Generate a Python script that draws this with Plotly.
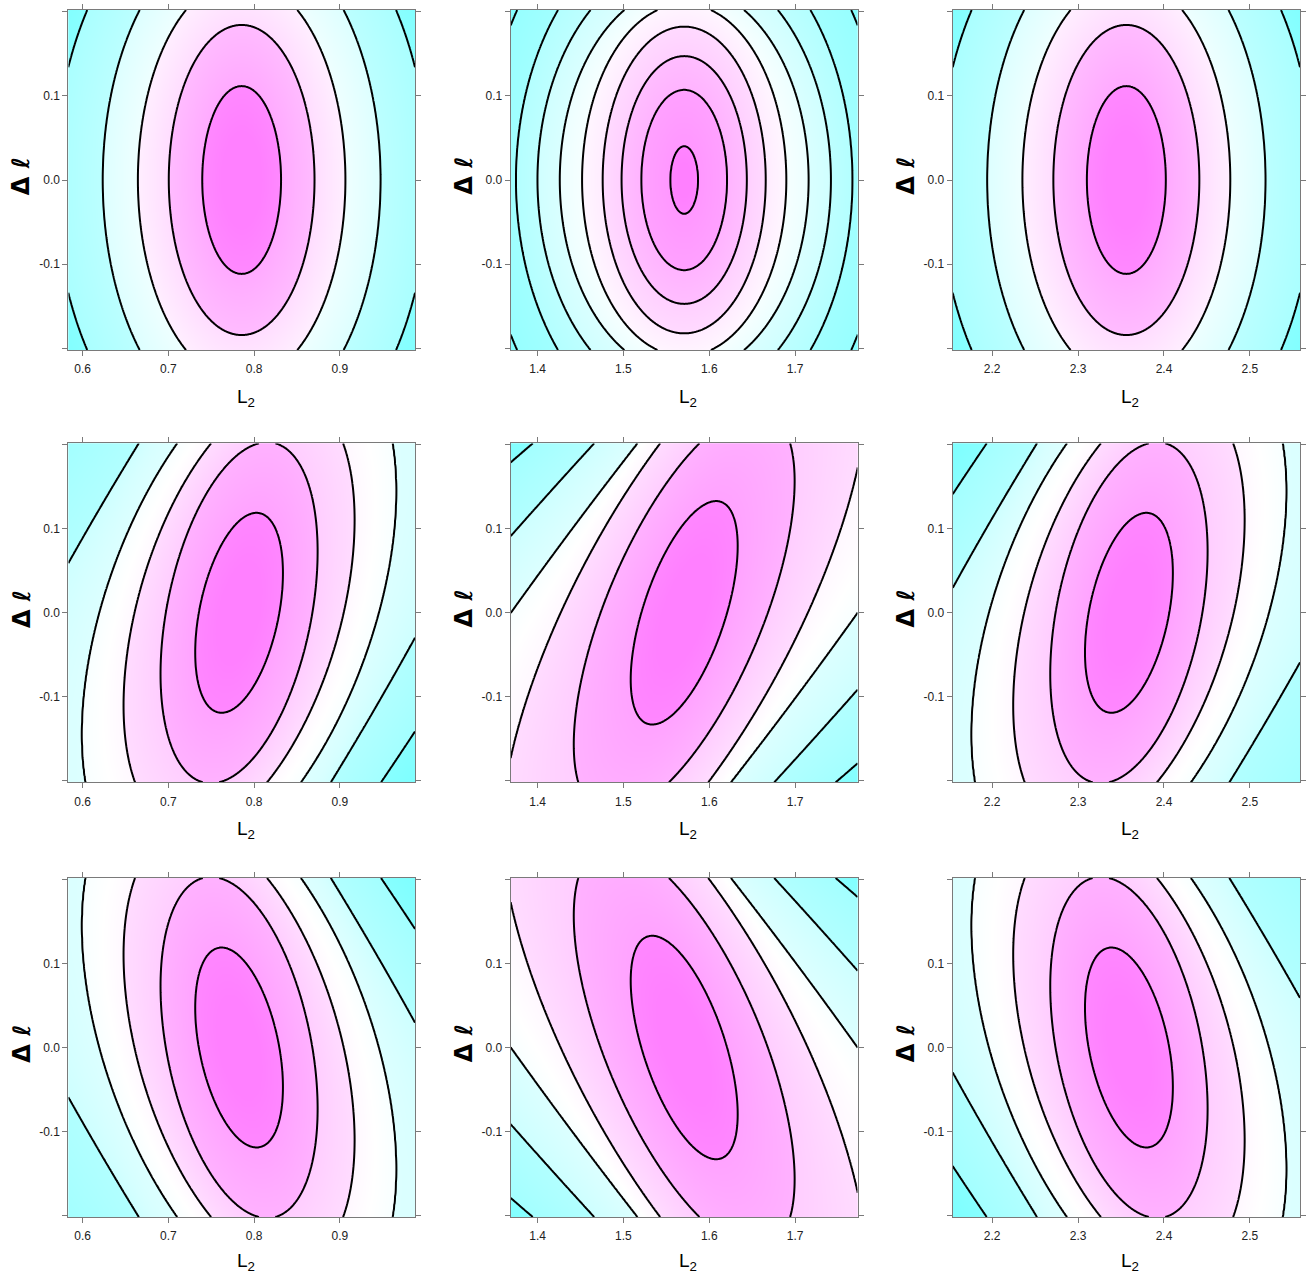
import numpy as np
import plotly.graph_objects as go

# ---- axes -------------------------------------------------------------
col_centres = [np.pi / 4, np.pi / 2, 3 * np.pi / 4]   # L2 centre of each column
x_half = 0.2022
y_half = 0.2017

x_tickvals = [[0.6, 0.7, 0.8, 0.9], [1.4, 1.5, 1.6, 1.7], [2.2, 2.3, 2.4, 2.5]]
x_ticktext = [["0.6", "0.7", "0.8", "0.9"], ["1.4", "1.5", "1.6", "1.7"], ["2.2", "2.3", "2.4", "2.5"]]
y_tickvals = [-0.1, 0.0, 0.1]
y_ticktext = ["-0.1", "0.0", "0.1"]
y_minor_ticks = [-0.2, 0.2]

# ---- contour geometry -------------------------------------------------
# For every contour (innermost first): half-width along L2 at the centre line,
# half-height along the tilt axis, shear (L2 shift per unit Δℓ) and L2 offset.
A_width = [0.046, 0.085, 0.121, 0.162, 0.218]
A_height = [0.1115, 0.184, 0.239, 0.297, 0.358]
A_shear = [0.0, 0.0, 0.0, 0.0, 0.0]
A_offset = [0.0, 0.0, 0.0, 0.0, 0.0]

B_width = [0.016, 0.050, 0.073, 0.095, 0.119, 0.145, 0.171, 0.196, 0.235]
B_height = [0.040, 0.107, 0.147, 0.182, 0.209, 0.230, 0.262, 0.305, 0.360]
B_shear = [0.0] * 9
B_offset = [0.0] * 9

C_width = [0.047, 0.0855, 0.122, 0.163, 0.226, 0.310]
C_height = [0.119, 0.203, 0.260, 0.316, 0.800, 1.000]
C_shear = [0.171, 0.162, 0.220, 0.265, 0.530, 0.600]
C_offset = [-0.003, -0.003, -0.003, -0.003, -0.008, -0.020]

D_width = [0.050, 0.0975, 0.144, 0.202, 0.280, 0.400]
D_height = [0.133, 0.240, 0.350, 0.800, 1.000, 1.200]
D_shear = [0.28, 0.35, 0.445, 0.70, 0.84, 1.08]
D_offset = [0.0] * 6

E_width = [0.047, 0.0855, 0.122, 0.163, 0.226, 0.310]
E_height = [0.119, 0.203, 0.260, 0.316, 0.800, 1.000]
E_shear = [0.171, 0.162, 0.220, 0.265, 0.530, 0.600]
E_offset = [0.003, 0.003, 0.003, 0.003, 0.008, 0.020]

surfaces = {
    "A": (A_width, A_height, A_shear, A_offset),
    "B": (B_width, B_height, B_shear, B_offset),
    "C": (C_width, C_height, C_shear, C_offset),
    "D": (D_width, D_height, D_shear, D_offset),
    "E": (E_width, E_height, E_shear, E_offset),
}

# panel grid: (surface, mirrored in Δℓ)
panel_layout = [
    [("A", False), ("B", False), ("A", False)],
    [("C", False), ("D", False), ("E", False)],
    [("C", True), ("D", True), ("E", True)],
]

# ---- page geometry (pixels) --------------------------------------------
W, H = 1307, 1275
cols_px = [(68.3, 415.0), (510.7, 857.7), (952.7, 1300.0)]
rows_px = [(10.0, 350.0), (443.3, 782.3), (878.0, 1217.0)]
xtitle_y_px = [397.5, 830.0, 1262.0]

# cm.colors: cyan -> white -> magenta
cm_scale = [[0.0, "#80FFFF"], [0.5, "#FFFFFF"], [1.0, "#FF80FF"]]
band_gradient = 0.35   # shading inside each band


def level_field(dx, dy, width, height, shear, offset):
    """Contour index of every grid point (0 at the peak, k on the k-th contour)."""
    n = len(width)
    knots = np.arange(n + 1, dtype=float)
    w = np.r_[1e-9, width]
    h = np.r_[1e-9, height]
    s = np.r_[shear[0], shear]
    c = np.r_[offset[0], offset]

    def at(arr, t):
        v = np.interp(t, knots, arr)
        slope = arr[-1] - arr[-2]
        return np.where(t > n, arr[-1] + (t - n) * slope, v)

    lo = np.zeros_like(dx)
    hi = np.full_like(dx, n + 4.0)
    for _ in range(40):
        mid = 0.5 * (lo + hi)
        u = dx - at(c, mid) - at(s, mid) * dy
        g = (u / at(w, mid)) ** 2 + (dy / at(h, mid)) ** 2
        inside = g < 1.0
        hi = np.where(inside, mid, hi)
        lo = np.where(inside, lo, mid)
    return 0.5 * (lo + hi)


def band_value(t, n):
    """Colour value: one cm.colors step per band, lightly shaded inside it."""
    b = np.minimum(np.floor(t), n)
    f = np.clip(t - b, 0.0, 1.0)
    return np.clip(b + band_gradient * (f - 0.5), 0.0, n)


fig = go.Figure()
layout = dict(
    width=W, height=H, margin=dict(l=0, r=0, t=0, b=0),
    paper_bgcolor="white", plot_bgcolor="white", showlegend=False,
)
annotations = []

axis_col = "#7a7a7a"
tick_font = dict(family="Liberation Sans, Arial, sans-serif", size=12, color="#222222")

idx = 0
for r in range(3):
    for ci in range(3):
        idx += 1
        sname, flip = panel_layout[r][ci]
        width, height, shear, offset = surfaces[sname]
        cx = col_centres[ci]
        xs = np.linspace(cx - x_half, cx + x_half, 401)
        ys = np.linspace(-y_half, y_half, 401)
        DX, DY = np.meshgrid(xs - cx, ys)
        if flip:
            DY = -DY
        t = level_field(DX, DY, width, height, shear, offset)
        n = len(width)
        xa = "x" if idx == 1 else f"x{idx}"
        ya = "y" if idx == 1 else f"y{idx}"

        fig.add_trace(go.Heatmap(
            x=xs, y=ys, z=-band_value(t, n), zmin=-n, zmax=0.0,
            colorscale=cm_scale, showscale=False, zsmooth=False,
            xaxis=xa, yaxis=ya, hoverinfo="skip",
        ))
        fig.add_trace(go.Contour(
            x=xs, y=ys, z=-t, showscale=False, autocontour=False,
            contours=dict(coloring="none", start=-n, end=-1, size=1, showlabels=False),
            line=dict(color="black", width=2, smoothing=1),
            xaxis=xa, yaxis=ya, hoverinfo="skip",
        ))

        l, rr = cols_px[ci]
        top, bot = rows_px[r]
        xdom = [l / W, rr / W]
        ydom = [1 - bot / H, 1 - top / H]
        key = "" if idx == 1 else str(idx)
        layout["xaxis" + key] = dict(
            domain=xdom, range=[cx - x_half, cx + x_half], anchor=ya,
            tickvals=x_tickvals[ci], ticktext=x_ticktext[ci],
            ticks="outside", ticklen=5, tickwidth=1, tickcolor=axis_col,
            ticklabelstandoff=3,
            showline=True, linecolor=axis_col, linewidth=1, mirror="ticks",
            showgrid=False, zeroline=False, tickfont=tick_font, fixedrange=True,
        )
        layout["yaxis" + key] = dict(
            domain=ydom, range=[-y_half, y_half], anchor=xa,
            tickvals=y_tickvals, ticktext=y_ticktext,
            ticks="outside", ticklen=5, tickwidth=1, tickcolor=axis_col,
            minor=dict(tickvals=y_minor_ticks, ticks="outside", ticklen=5,
                       tickwidth=1, tickcolor=axis_col, showgrid=False),
            showline=True, linecolor=axis_col, linewidth=1, mirror="ticks",
            showgrid=False, zeroline=False, tickfont=tick_font, fixedrange=True,
        )
        # axis titles
        annotations.append(dict(
            xref="paper", yref="paper", x=((l + rr) / 2 + 4) / W, y=1 - xtitle_y_px[r] / H,
            text="L<sub>2</sub>", showarrow=False, xanchor="center", yanchor="middle",
            font=dict(family="Liberation Sans, Arial, sans-serif", size=19, color="black"),
        ))
        annotations.append(dict(
            xref="paper", yref="paper", x=(l - 47) / W, y=1 - ((top + bot) / 2 - 4) / H,
            text="<b>Δ ℓ</b>", showarrow=False, xanchor="center", yanchor="middle",
            textangle=-90,
            font=dict(family="DejaVu Sans, sans-serif", size=24, color="black"),
        ))

layout["annotations"] = annotations
fig.update_layout(**layout)
fig.write_html("out.html")
